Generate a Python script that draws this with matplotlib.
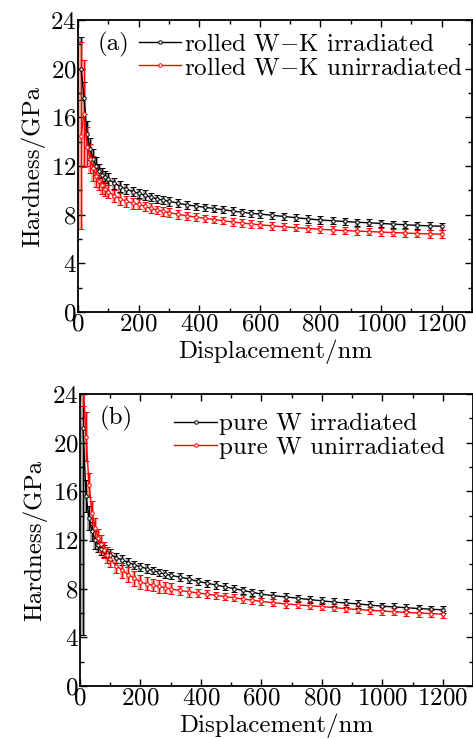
import numpy as np
import matplotlib
matplotlib.use('Agg')
import matplotlib.pyplot as plt
from matplotlib.ticker import MultipleLocator
from matplotlib.lines import Line2D

plt.rcParams.update({
    'font.family': 'serif',
    'font.serif': ['cmr10'],
    'mathtext.fontset': 'cm',
    'axes.unicode_minus': False,
    'axes.formatter.use_mathtext': True,
    'font.size': 18,
})

# ── Data ─────────────────────────────────────────────────────────────────────
disp = [10, 20, 30, 40, 50, 60, 70, 80, 90, 100,
        120, 140, 160, 180, 200, 220, 240, 260, 280, 300,
        330, 360, 390, 420, 450, 480, 510, 540, 570, 600,
        640, 680, 720, 760, 800, 840, 880, 920, 960, 1000,
        1040, 1080, 1120, 1160, 1200]

# (a) rolled W-K
wk_irr = [20.0, 17.6, 14.6, 13.4, 12.6, 12.0, 11.6, 11.3, 11.1, 10.9,
          10.6, 10.3, 10.1, 9.9, 9.75, 9.6, 9.45, 9.3, 9.2, 9.1,
          8.95, 8.8, 8.7, 8.6, 8.5, 8.4, 8.3, 8.2, 8.12, 8.05,
          7.95, 7.85, 7.75, 7.65, 7.56, 7.5, 7.44, 7.38, 7.33, 7.28,
          7.22, 7.17, 7.12, 7.08, 7.05]
wk_irr_err = [2.6, 1.3, 1.1, 0.9, 0.8, 0.7, 0.6, 0.55, 0.5, 0.5,
              0.45, 0.45, 0.4, 0.4, 0.4, 0.4, 0.35, 0.35, 0.35, 0.35,
              0.35, 0.35, 0.3, 0.3, 0.3, 0.3, 0.3, 0.3, 0.3, 0.3,
              0.3, 0.3, 0.3, 0.3, 0.3, 0.3, 0.3, 0.3, 0.3, 0.3,
              0.3, 0.3, 0.3, 0.3, 0.3]
wk_unirr = [14.5, 16.3, 13.6, 12.6, 11.8, 11.2, 10.8, 10.4, 10.1, 9.9,
            9.55, 9.3, 9.1, 8.95, 8.85, 8.68, 8.52, 8.38, 8.27, 8.17,
            8.03, 7.9, 7.8, 7.7, 7.6, 7.5, 7.4, 7.32, 7.24, 7.17,
            7.08, 7.0, 6.93, 6.86, 6.8, 6.74, 6.69, 6.65, 6.61, 6.57,
            6.53, 6.49, 6.45, 6.42, 6.4]
wk_unirr_err = [7.7, 4.4, 1.6, 1.2, 1.0, 0.9, 0.8, 0.7, 0.6, 0.55,
                0.5, 0.5, 0.45, 0.45, 0.4, 0.4, 0.4, 0.35, 0.35, 0.35,
                0.35, 0.35, 0.3, 0.3, 0.3, 0.3, 0.3, 0.3, 0.3, 0.3,
                0.3, 0.3, 0.3, 0.3, 0.3, 0.3, 0.3, 0.3, 0.3, 0.3,
                0.3, 0.3, 0.3, 0.3, 0.3]

# (b) pure W
w_irr = [21.2, 15.6, 13.8, 12.7, 12.0, 11.6, 11.3, 11.1, 10.95, 10.8,
         10.55, 10.35, 10.15, 9.95, 9.8, 9.65, 9.5, 9.35, 9.2, 9.1,
         8.95, 8.8, 8.6, 8.45, 8.3, 8.15, 8.0, 7.85, 7.7, 7.55,
         7.42, 7.32, 7.22, 7.1, 7.0, 6.9, 6.82, 6.74, 6.65, 6.56,
         6.5, 6.43, 6.37, 6.31, 6.26]
w_irr_err = [17.0, 1.3, 1.0, 0.8, 0.7, 0.6, 0.55, 0.5, 0.45, 0.45,
             0.4, 0.4, 0.4, 0.35, 0.35, 0.35, 0.3, 0.3, 0.3, 0.3,
             0.3, 0.3, 0.3, 0.3, 0.3, 0.3, 0.3, 0.3, 0.3, 0.3,
             0.3, 0.3, 0.3, 0.3, 0.3, 0.3, 0.3, 0.3, 0.3, 0.3,
             0.3, 0.3, 0.3, 0.3, 0.3]
w_unirr = [25.0, 20.5, 16.5, 14.2, 13.0, 12.2, 11.7, 11.2, 10.8, 10.4,
           9.9, 9.5, 9.15, 8.85, 8.55, 8.4, 8.28, 8.18, 8.08, 7.98,
           7.85, 7.75, 7.65, 7.55, 7.45, 7.35, 7.25, 7.15, 7.05, 6.95,
           6.85, 6.75, 6.67, 6.6, 6.53, 6.44, 6.36, 6.28, 6.22, 6.16,
           6.1, 6.05, 6.0, 5.95, 5.9]
w_unirr_err = [2.0, 2.0, 1.0, 1.0, 0.8, 0.7, 0.7, 0.65, 0.65, 0.6,
               0.6, 0.6, 0.6, 0.6, 0.6, 0.55, 0.5, 0.5, 0.45, 0.45,
               0.4, 0.4, 0.35, 0.35, 0.3, 0.3, 0.3, 0.3, 0.3, 0.3,
               0.3, 0.3, 0.3, 0.3, 0.3, 0.3, 0.3, 0.3, 0.3, 0.3,
               0.3, 0.3, 0.3, 0.3, 0.3]

FS = 18

fig = plt.figure(figsize=(4.73, 7.40), dpi=100)
ax_a = fig.add_axes([78 / 473, 1 - 312 / 740, 394 / 473, 292 / 740])
ax_b = fig.add_axes([80 / 473, 1 - 686 / 740, 393 / 473, 292 / 740])


def draw_series(ax, x, y, err, color, halo):
    # faint halo behind the error bars
    ax.errorbar(x, y, yerr=err, fmt='none', ecolor=halo, elinewidth=3,
                capsize=0, zorder=1)
    ax.errorbar(x, y, yerr=err, color=color, ecolor=color, lw=1.0,
                elinewidth=0.9, capsize=2.5, capthick=0.9,
                marker='o', ms=2.5, mfc='white', mec=color, mew=0.7,
                zorder=2)


def legend_handle(color):
    return Line2D([], [], color=color, lw=1.0, marker='o', ms=2.5,
                  mfc='white', mec=color, mew=0.7)


def style_axes(ax, tag):
    ax.set_xlim(0, 1300)
    ax.set_ylim(0, 24)
    ax.xaxis.set_minor_locator(MultipleLocator(100))
    ax.yaxis.set_major_locator(MultipleLocator(4))
    ax.yaxis.set_minor_locator(MultipleLocator(2))
    ax.set_xticks(range(0, 1201, 200))
    ax.tick_params(which='both', direction='in', top=True, right=True,
                   width=1.0)
    ax.tick_params(which='major', length=5, labelsize=FS, pad=1)
    ax.tick_params(which='minor', length=3)
    for s in ax.spines.values():
        s.set_linewidth(1.3)
    ax.set_xlabel('Displacement/nm', fontsize=FS, labelpad=3)
    ax.set_ylabel('Hardness/GPa', fontsize=FS, labelpad=4)
    ax.text(0.05, 0.915, tag, transform=ax.transAxes, fontsize=FS,
            va='center', ha='left')


draw_series(ax_a, disp, wk_irr, wk_irr_err, 'black', '#b0b0b0')
draw_series(ax_a, disp, wk_unirr, wk_unirr_err, 'red', '#ffb0b0')
style_axes(ax_a, '(a)')
ax_a.legend([legend_handle('black'), legend_handle('red')],
            ['rolled W$-$K irradiated', 'rolled W$-$K unirradiated'],
            loc='upper right', frameon=False, fontsize=FS, handlelength=1.7,
            handletextpad=0.1, labelspacing=0.05, borderaxespad=0.0,
            numpoints=1, bbox_to_anchor=(1.0, 0.99))

draw_series(ax_b, disp, w_irr, w_irr_err, 'black', '#b0b0b0')
draw_series(ax_b, disp, w_unirr, w_unirr_err, 'red', '#ffb0b0')
style_axes(ax_b, '(b)')
ax_b.legend([legend_handle('black'), legend_handle('red')],
            ['pure W irradiated', 'pure W unirradiated'],
            loc='upper right', frameon=False, fontsize=FS, handlelength=1.7,
            handletextpad=0.1, labelspacing=0.05, borderaxespad=0.0,
            numpoints=1, bbox_to_anchor=(0.955, 0.97))

fig.savefig('out.png', dpi=100)
